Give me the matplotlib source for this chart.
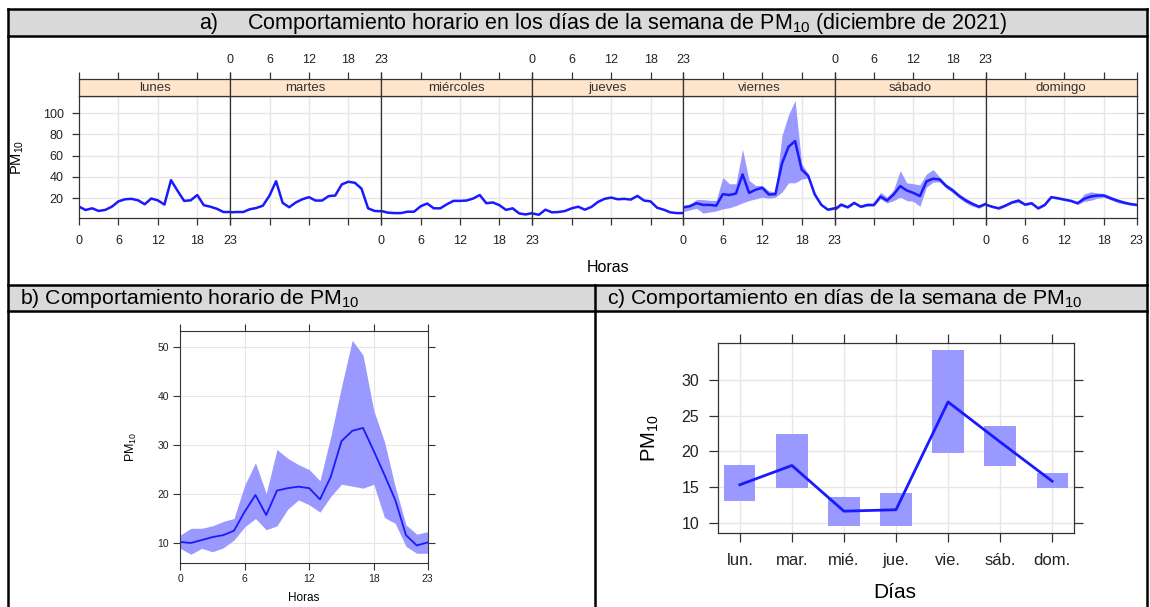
import matplotlib
matplotlib.use('Agg')
import matplotlib.pyplot as plt
from matplotlib.patches import Rectangle
from matplotlib import font_manager

plt.rcParams['font.family'] = ['Liberation Sans', 'DejaVu Sans']
plt.rcParams['mathtext.default'] = 'regular'

# fuente angosta para el panel b si existe
nombres = {f.name for f in font_manager.fontManager.ttflist}
ANGOSTA = 'Liberation Sans Narrow' if 'Liberation Sans Narrow' in nombres else 'Liberation Sans'

# ---- datos ----
horas = list(range(24))
dias = ['lunes', 'martes', 'miércoles', 'jueves', 'viernes', 'sábado', 'domingo']

pm_lunes = [12.1, 8.9, 10.5, 8, 9, 12, 17, 19, 19.4, 18, 14.3, 19.7, 18, 14, 37, 27,
            17.5, 18, 23, 13.4, 12, 10, 7, 7]
pm_martes = [6.7, 7, 7, 9.6, 10.8, 13, 22.5, 36, 15.6, 11.5, 16, 19, 21, 17.8, 17.8, 22,
             22.5, 33, 35.5, 34.5, 29, 10.5, 8, 7.7]
pm_miercoles = [8, 6.4, 6, 6, 7.3, 7.3, 12.4, 15, 10.5, 10.5, 14.3, 17.5, 17.5, 17.8, 19.7, 23,
                15.3, 16, 13.4, 9, 10.5, 5.7, 4.7, 6]
pm_jueves = [5.7, 4.4, 9.2, 6.7, 7, 8, 10.5, 12, 9.2, 11.8, 16.5, 19.4, 20.6, 19, 19.4, 18.7,
             22.2, 17.8, 17, 11, 9.2, 6.7, 6, 6]
pm_viernes = [11.5, 12.4, 15.3, 13.7, 13.7, 13, 23.8, 23, 24.4, 42.5, 25, 28, 29.8, 23.5, 23.8, 52.6,
              68.4, 73.8, 47, 41, 23.5, 13.7, 9.2, 10.5]
pm_sabado = [9.2, 14, 11.5, 15.6, 12, 13.7, 13.7, 21.6, 17.8, 23.5, 31.4, 27.3, 25, 22, 35.8, 38.4,
             37.7, 31.4, 27.3, 22, 17.8, 14.6, 12, 14.6]
pm_domingo = [14, 12, 10.5, 13, 16, 17.8, 14, 15.3, 10.5, 13.7, 21, 20, 18.7, 17.5, 15.3, 19.4,
              21.6, 22.5, 22.5, 20, 17.8, 16, 14.6, 13.7]

viernes_inf = [7.3, 9, 10.5, 6, 7, 8, 10, 11, 13, 15.6, 17.8, 19.4, 21, 20, 21, 25.7,
               34.5, 34.5, 38, 39, 22, 13, 8.5, 9.5]
viernes_sup = [13, 14.6, 18.7, 18.7, 18, 18, 39.6, 33.6, 33.6, 66, 36.8, 32, 32, 27, 25.7, 78.9,
               98.5, 112, 52.6, 43, 25, 14.5, 10, 11.5]
sabado_inf = [8, 12.5, 10.5, 14.5, 11, 12.5, 12.5, 19.4, 15.5, 17.8, 21, 17.8, 17, 12.4, 30.4, 35,
              35.5, 29.5, 25, 20, 15.5, 12.5, 10.5, 13.5]
sabado_sup = [10.5, 15.5, 12.5, 16.5, 13, 14.5, 14.5, 25.7, 21, 28, 46, 34.5, 33.6, 32.6, 42.8, 47,
              40, 33.5, 29.5, 24, 20, 16.5, 13.5, 15.5]
domingo_inf = [13, 11, 9.5, 12, 15, 16, 13, 14.1, 9.5, 12.7, 20, 19, 17.7, 16.5, 14.1, 17,
               18, 20, 21, 18.5, 16, 14.5, 13.4, 12.7]
domingo_sup = [15, 13, 11.5, 14, 17, 19.5, 15, 16.5, 11.5, 14.7, 22, 21, 19.7, 18.5, 16.5, 24,
               26, 25, 24.5, 22, 19.5, 17.5, 15.8, 14.7]

hora_media = [10.2, 10, 10.6, 11.2, 11.6, 12.5, 16.4, 19.8, 15.7, 20.7, 21.2, 21.5, 21.2, 18.9,
              23.5, 30.8, 32.9, 33.5, 28.8, 23.9, 18.8, 11.6, 9.5, 10.1]
hora_inf = [8.9, 7.7, 8.9, 8.2, 9, 10.6, 13.3, 15, 12.7, 13.5, 16.9, 18.8, 17.8, 16.3,
            19.5, 22, 21.6, 21.2, 22, 15.2, 14, 9.3, 7.9, 7.9]
hora_sup = [11.6, 13, 13, 13.5, 14.4, 15, 21.8, 26.4, 20.1, 29.1, 27.3, 26, 25, 22.7,
            31.7, 41.9, 51.4, 48.4, 37.1, 30.7, 21.5, 13.7, 11.8, 12.3]

dias_abrev = ['lun.', 'mar.', 'mié.', 'jue.', 'vie.', 'sáb.', 'dom.']
dia_media = [15.3, 18, 11.6, 11.8, 26.9, 21.3, 15.8]
dia_inf = [13, 14.8, 9.5, 9.5, 19.8, 17.9, 14.8]
dia_sup = [18, 22.4, 13.6, 14.1, 34.2, 23.6, 17]

# ---- estilo ----
W, H = 1150, 607
AZUL = '#1a1aff'
BANDA = '#9999ff'
GRIS_GRID = '#e6e6e6'
EJE = '#333333'
TITULO_BG = '#d9d9d9'

fig = plt.figure(figsize=(W / 100, H / 100), dpi=100)


def px_axes(l, t, r, b):
    return fig.add_axes([l / W, 1 - b / H, (r - l) / W, (b - t) / H])


# tabla de fondo en coordenadas de pixel
bg = fig.add_axes([0, 0, 1, 1])
bg.set_xlim(0, W)
bg.set_ylim(H, 0)
bg.axis('off')
izq, der = 7.5, 1147
bg.add_patch(Rectangle((izq, 9), der - izq, 27, facecolor=TITULO_BG, edgecolor='none'))
bg.add_patch(Rectangle((izq, 285), der - izq, 26, facecolor=TITULO_BG, edgecolor='none'))
for y in [9, 36, 285, 311]:
    bg.plot([izq, der], [y, y], color='black', lw=1.8)
bg.plot([izq, izq], [9, H], color='black', lw=1.8)
bg.plot([der, der], [9, H], color='black', lw=1.8)
bg.plot([595, 595], [285, H], color='black', lw=1.8)

bg.text(218, 23, 'a)', ha='right', va='center', fontsize=15.5)
bg.text(247, 23, 'Comportamiento horario en los días de la semana de PM$_{10}$ (diciembre de 2021)',
        ha='left', va='center', fontsize=15.5)
bg.text(20, 298, 'b) Comportamiento horario de PM$_{10}$', ha='left', va='center', fontsize=15.3)
bg.text(607, 298, 'c) Comportamiento en días de la semana de PM$_{10}$', ha='left', va='center', fontsize=15.3)

# ---- a) paneles por día ----
series = [pm_lunes, pm_martes, pm_miercoles, pm_jueves, pm_viernes, pm_sabado, pm_domingo]
bandas = {4: (viernes_inf, viernes_sup), 5: (sabado_inf, sabado_sup), 6: (domingo_inf, domingo_sup)}
x0, x1 = 79, 1136.7
ancho = (x1 - x0) / 7
top_p, bot_p, top_s = 95.7, 218.5, 79
xt = [0, 6, 12, 18, 23]

for i, dia in enumerate(dias):
    l = x0 + i * ancho
    ax = px_axes(l, top_p, l + ancho, bot_p)
    if i in bandas:
        lo, hi = bandas[i]
        ax.fill_between(horas, lo, hi, color=BANDA, lw=0)
    ax.plot(horas, series[i], color=AZUL, lw=1.8)
    ax.set_xlim(0, 23)
    ax.set_ylim(0.9, 116.5)
    for g in [6, 12, 18]:
        ax.axvline(g, color=GRIS_GRID, lw=1, zorder=0)
    for g in [20, 40, 60, 80, 100]:
        ax.axhline(g, color=GRIS_GRID, lw=1, zorder=0)
    ax.set_xticks(xt)
    ax.set_yticks([20, 40, 60, 80, 100])
    ax.tick_params(direction='out', length=5, width=0.9, color=EJE, labelsize=9,
                   labelcolor='#222222', pad=6)
    ax.tick_params(axis='x', bottom=True, labelbottom=(i % 2 == 0), pad=7)
    ax.tick_params(axis='y', left=(i == 0), labelleft=(i == 0), right=(i == 6), labelright=False)
    for s in ax.spines.values():
        s.set_color(EJE)
        s.set_linewidth(0.9)
    if i == 0:
        ax.set_ylabel('PM$_{10}$', fontsize=10.5)
        ax.yaxis.set_label_coords(-0.35, 0.5)

    st = px_axes(l, top_s, l + ancho, top_p)
    st.set_facecolor('#FFE5CC')
    st.set_xlim(0, 23)
    st.set_yticks([])
    st.set_xticks(xt)
    st.tick_params(axis='x', bottom=False, labelbottom=False, top=True, labeltop=(i % 2 == 1),
                   direction='out', length=5, width=0.9, color=EJE, labelsize=9,
                   labelcolor='#222222', pad=4.5)
    for s in st.spines.values():
        s.set_color(EJE)
        s.set_linewidth(0.9)
    st.text(0.5, 0.45, dia, transform=st.transAxes, ha='center', va='center',
            fontsize=9.5, color='#333333')

bg.text((x0 + x1) / 2, 268, 'Horas', ha='center', va='center', fontsize=11.5)

# ---- b) comportamiento horario ----
axb = px_axes(180.2, 331, 427.5, 563.3)
axb.fill_between(horas, hora_inf, hora_sup, color=BANDA, lw=0)
axb.plot(horas, hora_media, color=AZUL, lw=1.3)
axb.set_xlim(0, 23)
axb.set_ylim(5.85, 53.3)
for g in [6, 12, 18]:
    axb.axvline(g, color=GRIS_GRID, lw=0.8, zorder=0)
for g in [10, 20, 30, 40, 50]:
    axb.axhline(g, color=GRIS_GRID, lw=0.8, zorder=0)
axb.set_xticks(xt)
axb.set_yticks([10, 20, 30, 40, 50])
axb.tick_params(direction='out', length=5, width=0.8, color=EJE, labelsize=7.5,
                labelcolor='#222222', top=True, right=True, pad=3)
for lab in axb.get_xticklabels() + axb.get_yticklabels():
    lab.set_family([ANGOSTA, 'DejaVu Sans'])
for s in axb.spines.values():
    s.set_color(EJE)
    s.set_linewidth(0.8)
axb.set_ylabel('PM$_{10}$', fontsize=9, family=[ANGOSTA, 'DejaVu Sans'])
axb.yaxis.set_label_coords(-0.165, 0.5)
bg.text(304, 598, 'Horas', ha='center', va='center', fontsize=8.5, family=[ANGOSTA, 'DejaVu Sans'])

# ---- c) días de la semana ----
axc = px_axes(718, 342.7, 1074, 533.3)
pos = list(range(1, 8))
axc.bar(pos, [s - i for s, i in zip(dia_sup, dia_inf)], bottom=dia_inf, width=0.6,
        color=BANDA, lw=0)
axc.plot(pos, dia_media, color=AZUL, lw=2)
axc.set_xlim(0.58, 7.42)
axc.set_ylim(8.5, 35.2)
for g in pos:
    axc.axvline(g, color=GRIS_GRID, lw=1, zorder=0)
for g in [10, 15, 20, 25, 30]:
    axc.axhline(g, color=GRIS_GRID, lw=1, zorder=0)
axc.set_xticks(pos)
axc.set_xticklabels(dias_abrev)
axc.set_yticks([10, 15, 20, 25, 30])
axc.tick_params(direction='out', length=6.5, width=0.9, color=EJE, labelsize=11.5,
                labelcolor='#222222', top=True, right=True, pad=7)
axc.tick_params(axis='x', labelsize=12, pad=8)
for s in axc.spines.values():
    s.set_color(EJE)
    s.set_linewidth(0.9)
axc.set_ylabel('PM$_{10}$', fontsize=14.5)
axc.yaxis.set_label_coords(-0.16, 0.5)
bg.text(895, 593, 'Días', ha='center', va='center', fontsize=15)

fig.savefig('out.png', dpi=100)
